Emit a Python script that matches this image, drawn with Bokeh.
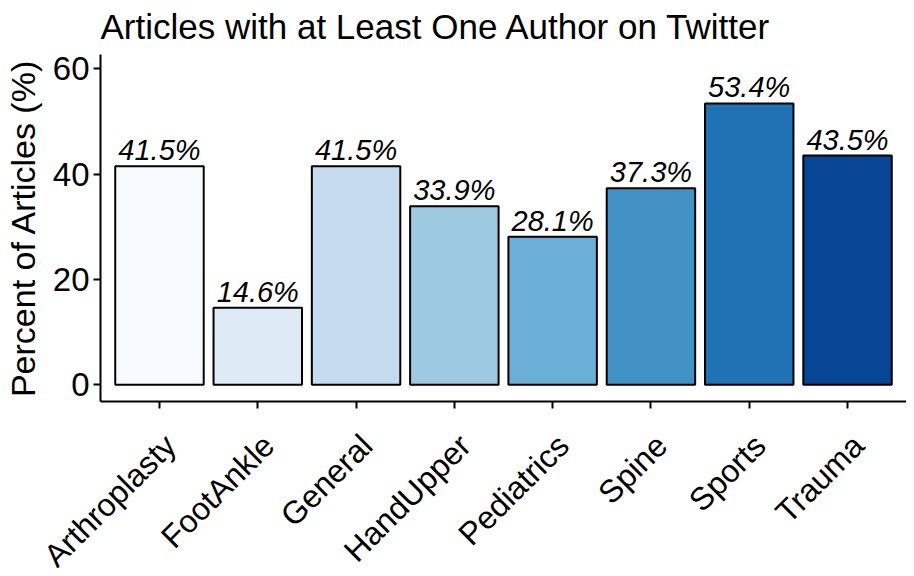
import math
from bokeh.plotting import figure
from bokeh.models import Range1d, FixedTicker, ColumnDataSource
from bokeh.core.properties import value
from bokeh.embed import file_html
from bokeh.resources import INLINE

categories = ["Arthroplasty", "FootAnkle", "General", "HandUpper", "Pediatrics", "Spine", "Sports", "Trauma"]
percents = [41.5, 14.6, 41.5, 33.9, 28.1, 37.3, 53.4, 43.5]
colors = ["#F7FBFF", "#DEEBF7", "#C6DBEF", "#9ECAE1", "#6BAED6", "#4292C6", "#2171B5", "#084594"]
y_ticks = [0, 20, 40, 60]

FONT = "Liberation Sans"
Y0, Y1 = -3.2, 62.7

xs = list(range(1, len(categories) + 1))
src = ColumnDataSource(dict(x=xs, top=percents, color=colors,
                            label=[f"{v:.1f}%" for v in percents]))
cat_src = ColumnDataSource(dict(x=xs, y=[Y0] * len(xs), name=categories))

p = figure(width=906, height=568, output_backend="svg", toolbar_location=None,
           x_range=Range1d(0.4, 8.6), y_range=Range1d(Y0, Y1),
           min_border_left=92, min_border_right=0, min_border_bottom=167, min_border_top=12,
           title="Articles with at Least One Author on Twitter")

p.vbar(x="x", top="top", bottom=0, width=0.9, fill_color="color", line_color="black",
       line_width=2, source=src)
p.text(x="x", y="top", text="label", source=src, text_align="center",
       text_baseline="bottom", y_offset=0, text_font=value(FONT),
       text_font_style="italic", text_font_size="29px", text_color="black")

p.title.text_font = FONT
p.title.text_font_size = "35px"
p.title.text_font_style = "normal"
p.title.text_color = "black"
p.title.align = "left"
p.title.vertical_align = "top"
p.title.standoff = 13

p.outline_line_color = None
p.xgrid.visible = False
p.ygrid.visible = False
p.background_fill_color = "white"

for ax in (p.xaxis[0], p.yaxis[0]):
    ax.axis_line_color = "black"
    ax.axis_line_width = 2
    ax.major_tick_line_color = "black"
    ax.major_tick_line_width = 2
    ax.major_tick_out = 7
    ax.major_tick_in = 0
    ax.minor_tick_line_color = None
    ax.major_label_text_font = FONT
    ax.major_label_text_font_size = "33px"
    ax.major_label_text_color = "black"
    ax.axis_label_text_font = FONT
    ax.axis_label_text_font_style = "normal"
    ax.axis_label_text_color = "black"

p.yaxis.ticker = FixedTicker(ticks=y_ticks)
p.yaxis.axis_label = "Percent of Articles (%)"
p.yaxis.axis_label_text_font_size = "34px"
p.yaxis.axis_label_standoff = 8
p.yaxis.major_label_standoff = 4

p.xaxis.ticker = FixedTicker(ticks=xs)
p.xaxis.major_label_overrides = {x: "" for x in xs}
p.xaxis.major_label_text_font_size = "1px"
p.xaxis.major_label_standoff = 0

# category tick labels, rotated 45 degrees, anchored under each tick (drawn unclipped)
p.text(x="x", y="y", text="name", source=cat_src, angle=math.pi / 4,
       text_align="right", text_baseline="top", x_offset=-2, y_offset=26,
       text_font=value(FONT), text_font_size="32px", text_color="black",
       level="overlay")

open("out.html", "w").write(file_html(p, INLINE))
